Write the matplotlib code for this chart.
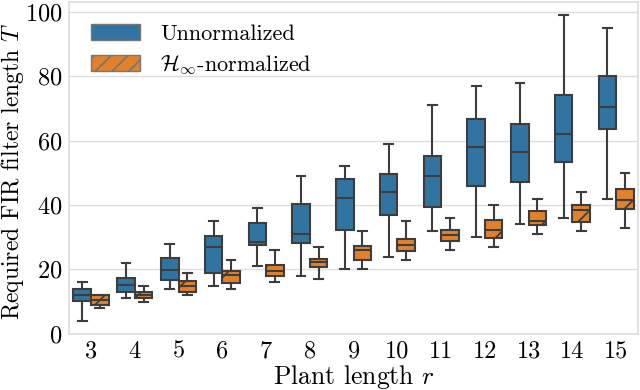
import matplotlib
matplotlib.use("Agg")
import matplotlib.pyplot as plt
from matplotlib.patches import Patch

plt.rcParams["font.family"] = "serif"
plt.rcParams["font.serif"] = ["cmr10"]
plt.rcParams["mathtext.fontset"] = "cm"
plt.rcParams["axes.unicode_minus"] = False
plt.rcParams["axes.formatter.use_mathtext"] = True
plt.rcParams["hatch.linewidth"] = 1.3

# plant lengths r
plant_len = [3, 4, 5, 6, 7, 8, 9, 10, 11, 12, 13, 14, 15]

# box stats: (whislo, q1, med, q3, whishi)
unnorm_lo = [4, 11, 14, 15, 21, 18, 20, 24, 32, 30, 34, 36, 42]
unnorm_q1 = [10.2, 12.9, 16.6, 18.8, 27.7, 28.1, 32.3, 37, 39.5, 46, 47.1, 53.2, 63.5]
unnorm_med = [12.1, 15.1, 19.9, 27.1, 28.6, 31.1, 42.1, 44, 49, 58.1, 56.5, 62, 70.5]
unnorm_q3 = [14, 17.3, 23.5, 30.3, 34.3, 40.2, 48, 49.5, 55.3, 66.6, 65, 74, 80]
unnorm_hi = [16, 22, 28, 35, 39, 49, 52, 59, 71, 77, 78, 99, 95]

hinf_lo = [8, 10, 12, 14, 16, 17, 20, 23, 26, 27, 31, 32, 33]
hinf_q1 = [9, 11.1, 13.1, 15.8, 17.8, 20.8, 22.8, 25.7, 28.7, 29.8, 33.8, 34.8, 38.6]
hinf_med = [10.5, 11.9, 14.7, 18.2, 19.6, 22.3, 25.9, 27.6, 30.7, 32.2, 35.1, 38.5, 41.5]
hinf_q3 = [11.9, 13.1, 16.3, 19.4, 21.3, 23.3, 27.3, 29.3, 32.3, 35.3, 38, 40, 45]
hinf_hi = [12, 15, 19, 23, 26, 27, 32, 35, 36, 40, 42, 44, 50]

blue = "#3274a1"
orange = "#e1812c"
edge = "#3d3d3d"


def make_stats(lo, q1, med, q3, hi):
    return [dict(whislo=a, q1=b, med=c, q3=d, whishi=e, fliers=[])
            for a, b, c, d, e in zip(lo, q1, med, q3, hi)]


fig, ax = plt.subplots(figsize=(6.4, 3.9), dpi=100)
fig.subplots_adjust(left=0.108, right=0.997, top=0.995, bottom=0.144)

idx = list(range(len(plant_len)))
line_kw = dict(color=edge, linewidth=1.5)

b1 = ax.bxp(make_stats(unnorm_lo, unnorm_q1, unnorm_med, unnorm_q3, unnorm_hi),
            positions=[i - 0.2 for i in idx], widths=0.4, patch_artist=True,
            showfliers=False, boxprops=dict(facecolor=blue, edgecolor=edge, linewidth=1.5),
            whiskerprops=line_kw, capprops=line_kw, medianprops=line_kw,
            manage_ticks=False)
b2 = ax.bxp(make_stats(hinf_lo, hinf_q1, hinf_med, hinf_q3, hinf_hi),
            positions=[i + 0.2 for i in idx], widths=0.4, patch_artist=True,
            showfliers=False, boxprops=dict(facecolor=orange, edgecolor=edge, linewidth=1.5),
            whiskerprops=line_kw, capprops=line_kw, medianprops=line_kw,
            manage_ticks=False)
for box in b2["boxes"]:
    box.set_hatch("/")

ax.set_xticks(idx)
ax.set_xticklabels([str(r) for r in plant_len])
ax.set_xlim(-0.5, len(plant_len) - 0.5)
ax.set_ylim(0, 103)
ax.set_yticks([0, 20, 40, 60, 80, 100])

ax.yaxis.grid(True, color="#dddddd", linewidth=1.0)
ax.set_axisbelow(True)
for s in ax.spines.values():
    s.set_color("#dddddd")
    s.set_linewidth(1.25)
ax.tick_params(axis="both", length=0, labelsize=17.5, pad=5)

ax.set_xlabel("Plant length $r$", fontsize=18.5, labelpad=0)
ax.set_ylabel("Required FIR filter length $T$", fontsize=17)
ax.yaxis.set_label_coords(-0.075, 0.49)

handles = [Patch(facecolor=blue, edgecolor="#777777", label="Unnormalized"),
           Patch(facecolor=orange, edgecolor="#777777", hatch="//",
                 label=r"$\mathcal{H}_\infty$-normalized")]
ax.legend(handles=handles, loc="upper left", fontsize=16, frameon=False,
          handlelength=2.2, handleheight=0.75, handletextpad=0.9,
          labelspacing=0.4, borderaxespad=0.6)

plt.savefig("out.png", dpi=100)
